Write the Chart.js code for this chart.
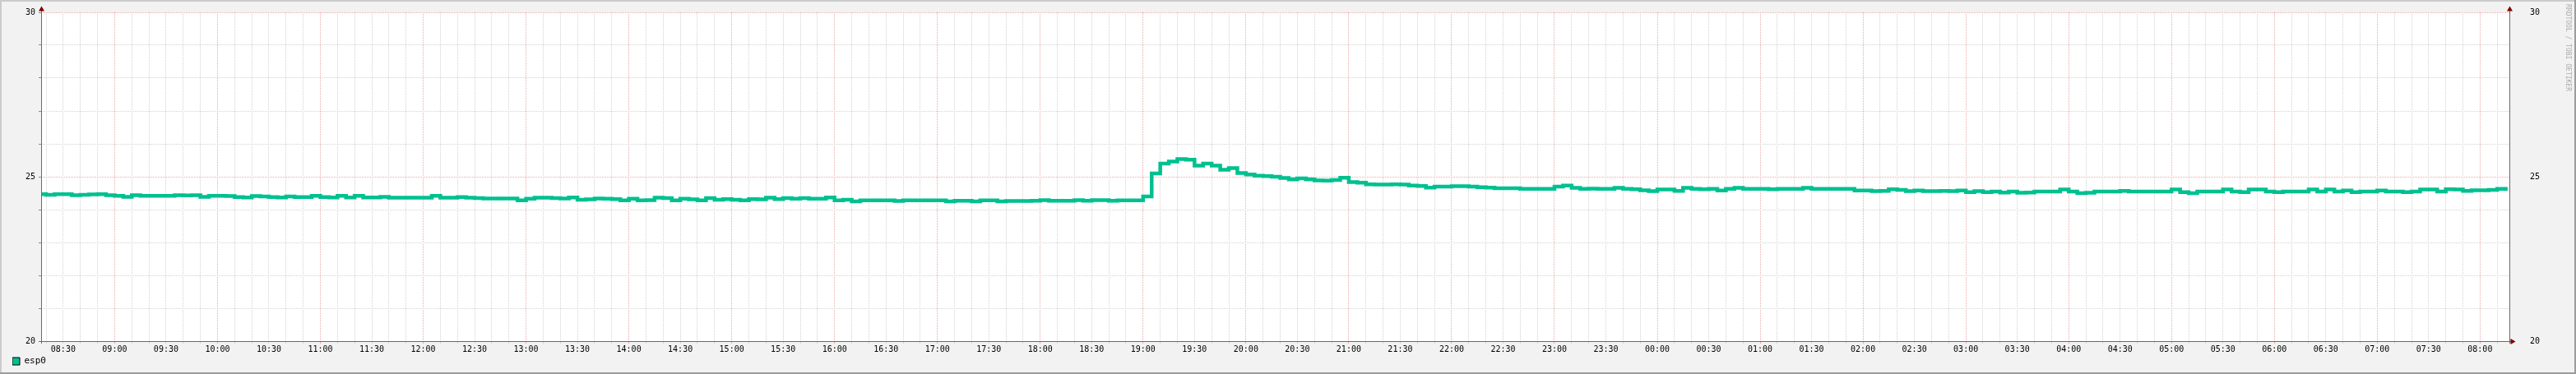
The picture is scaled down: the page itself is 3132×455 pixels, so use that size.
<!DOCTYPE html>
<html><head><meta charset="utf-8">
<script src="https://cdn.jsdelivr.net/npm/chart.js@4.4.1/dist/chart.umd.min.js"></script>
<style>html,body{margin:0;padding:0;background:#f2f2f2;}canvas{display:block}</style>
</head><body>
<canvas id="c" width="3132" height="455" style="width:3132px;height:455px"></canvas>
<script>
// ---- data (5-minute samples, first sample at 08:15) ----
const seriesName = 'esp0';
const startMinute = 495;   // 08:15
const stepMinutes = 5;
const xMin = 497.1;        // 08:17 (left edge of plot)
const xMax = 1937.1;       // 08:17 next day
const yTickLabels = [20, 25, 30];

// 08:15 - 12:55
const tempMorning = [
  24.47,24.45,24.47,24.47,24.44,24.45,24.46,24.47,24.44,
  24.42,24.39,24.44,24.42,24.42,24.42,24.42,24.44,24.43,24.44,24.39,24.42,
  24.42,24.41,24.38,24.37,24.41,24.40,24.38,24.37,24.40,24.38,24.38,24.42,
  24.38,24.37,24.42,24.37,24.42,24.37,24.37,24.39,24.36,24.36,24.36,24.36,
  24.36,24.42,24.36,24.36,24.38,24.36,24.35,24.34,24.34,24.34,24.34,24.28
];
// 13:00 - 18:55
const tempAfternoon = [
  24.33,24.36,24.36,24.35,24.34,24.37,24.30,24.31,24.34,24.33,24.32,24.28,
  24.33,24.28,24.29,24.36,24.35,24.28,24.33,24.31,24.28,24.35,24.30,24.32,
  24.30,24.28,24.32,24.31,24.36,24.32,24.35,24.33,24.35,24.33,24.33,24.37,
  24.28,24.30,24.25,24.28,24.28,24.28,24.28,24.26,24.28,24.28,24.28,24.28,
  24.28,24.25,24.27,24.27,24.25,24.28,24.28,24.25,24.26,24.26,24.26,24.27,
  24.29,24.27,24.27,24.27,24.29,24.27,24.29,24.29,24.27,24.28,24.28,24.28
];
// 19:00 - 23:55
const tempEvening = [
  24.40,25.10,25.40,25.46,25.54,25.52,25.34,25.40,25.34,25.21,25.26,25.11,
  25.07,25.03,25.02,25.00,24.96,24.92,24.95,24.92,24.89,24.88,24.90,24.97,
  24.84,24.82,24.77,24.76,24.76,24.77,24.76,24.73,24.72,24.67,24.70,24.70,
  24.71,24.71,24.70,24.68,24.67,24.65,24.65,24.65,24.63,24.63,24.63,24.63,
  24.70,24.73,24.66,24.63,24.64,24.63,24.63,24.66,24.63,24.62,24.59,24.56
];
// 00:00 - 08:15
const tempNight = [
  24.61,24.61,24.57,24.66,24.63,24.62,24.63,24.58,24.63,24.66,24.63,24.63,
  24.63,24.62,24.63,24.63,24.63,24.66,24.63,24.63,24.63,24.63,24.63,24.58,
  24.58,24.56,24.57,24.62,24.60,24.56,24.58,24.56,24.56,24.57,24.56,24.58,
  24.53,24.56,24.53,24.55,24.52,24.55,24.51,24.52,24.55,24.55,24.55,24.61,
  24.55,24.50,24.51,24.55,24.55,24.55,24.57,24.55,24.55,24.55,24.55,24.55,
  24.61,24.53,24.50,24.55,24.55,24.55,24.61,24.55,24.53,24.61,24.61,24.55,
  24.53,24.55,24.55,24.55,24.61,24.55,24.61,24.55,24.58,24.53,24.55,24.55,
  24.58,24.55,24.55,24.53,24.55,24.61,24.61,24.55,24.62,24.61,24.57,24.59,
  24.59,24.60,24.63,24.57
];

// ---- build ----
const temps = [].concat(tempMorning, tempAfternoon, tempEvening, tempNight);
const points = temps.map((v, i) => ({ x: startMinute + i * stepMinutes, y: v }));

const LINE = '#00C090';
const MINOR = '#D2D2D2';
const MAJOR = '#EBA9A9';
const AXIS = '#6A6A6A';
const ARROW = '#7F0000';
const MONO = '"DejaVu Sans Mono", "Liberation Mono", monospace';

function fmtTime(v) {
  const h = Math.floor(v / 60) % 24, m = Math.round(v % 60);
  return String(h).padStart(2, '0') + ':' + String(m).padStart(2, '0');
}

const rrdFrame = {
  id: 'rrdFrame',
  beforeDraw(chart) {
    const { ctx, width, height, chartArea: a } = chart;
    ctx.save();
    ctx.fillStyle = '#F2F2F2'; ctx.fillRect(0, 0, width, height);
    ctx.fillStyle = '#CBCBCB'; ctx.fillRect(0, 0, width, 2); ctx.fillRect(0, 0, 2, height);
    ctx.fillStyle = '#9C9C9C'; ctx.fillRect(0, height - 2, width, 2); ctx.fillRect(width - 2, 0, 2, height);
    ctx.fillStyle = '#FFFFFF'; ctx.fillRect(a.left, a.top, a.right - a.left, a.bottom - a.top);
    ctx.restore();
  },
  afterDraw(chart) {
    const { ctx, chartArea: a } = chart;
    ctx.save();
    ctx.strokeStyle = AXIS; ctx.lineWidth = 1;
    ctx.beginPath();
    ctx.moveTo(a.left + 0.5, a.bottom + 3); ctx.lineTo(a.left + 0.5, a.top - 4);
    ctx.moveTo(a.right + 0.5, a.bottom + 3); ctx.lineTo(a.right + 0.5, a.top - 4);
    ctx.moveTo(a.left - 3, a.bottom + 0.5); ctx.lineTo(a.right + 4, a.bottom + 0.5);
    ctx.stroke();
    ctx.fillStyle = ARROW;
    [a.left + 0.5, a.right + 0.5].forEach(x => {
      ctx.beginPath(); ctx.moveTo(x - 3.5, a.top - 1.5); ctx.lineTo(x + 3.5, a.top - 1.5); ctx.lineTo(x, a.top - 7.5); ctx.closePath(); ctx.fill();
    });
    ctx.beginPath(); ctx.moveTo(a.right + 1.5, a.bottom - 3); ctx.lineTo(a.right + 1.5, a.bottom + 4); ctx.lineTo(a.right + 7.5, a.bottom + 0.5); ctx.closePath(); ctx.fill();
    // watermark
    ctx.translate(3122, 5);
    ctx.rotate(Math.PI / 2);
    ctx.fillStyle = '#ABABAB';
    ctx.font = '8px ' + MONO;
    ctx.textBaseline = 'middle';
    ctx.textAlign = 'left';
    ctx.fillText('RRDTOOL / TOBI OETIKER', 0, 0);
    ctx.restore();
  }
};

new Chart(document.getElementById('c'), {
  type: 'line',
  data: {
    datasets: [{
      label: seriesName,
      data: points,
      borderColor: LINE,
      backgroundColor: LINE,
      borderWidth: 4.5,
      pointRadius: 0,
      stepped: true,
      fill: false,
      yAxisID: 'y'
    }]
  },
  options: {
    responsive: false,
    animation: false,
    events: [],
    layout: { padding: { top: 15, left: 15, right: 0, bottom: 0 } },
    plugins: {
      tooltip: { enabled: false },
      legend: {
        display: true,
        position: 'bottom',
        align: 'start',
        labels: {
          boxWidth: 9, boxHeight: 9, padding: 0,
          color: '#000',
          font: { family: MONO, size: 11 },
          generateLabels(chart) {
            return chart.data.datasets.map((d, i) => ({
              text: d.label, fillStyle: d.borderColor, strokeStyle: '#000', lineWidth: 1,
              hidden: false, datasetIndex: i, fontColor: '#000'
            }));
          }
        }
      }
    },
    scales: {
      x: {
        type: 'linear',
        min: xMin, max: xMax,
        afterBuildTicks(scale) {
          const t = [];
          for (let v = Math.ceil(scale.min / 10) * 10; v <= scale.max; v += 10) t.push({ value: v });
          scale.ticks = t;
        },
        afterFit(scale) { scale.height = 19; },
        ticks: {
          autoSkip: false, maxRotation: 0, minRotation: 0, padding: 1,
          color: '#000', font: { family: MONO, size: 10 },
          callback: (v) => (Math.round(v) % 30 === 0 ? fmtTime(v) : '')
        },
        grid: {
          drawTicks: true, tickLength: 3,
          color: (c) => (c.tick && Math.round(c.tick.value) % 60 === 0 ? MAJOR : MINOR),
          tickColor: (c) => (c.tick && Math.round(c.tick.value) % 60 === 0 ? MAJOR : MINOR),
          lineWidth: 1
        },
        border: { display: false, dash: [1, 1] }
      },
      y: {
        position: 'left',
        min: 20, max: 30,
        afterBuildTicks(scale) {
          const t = [];
          for (let v = 20; v <= 30; v += 1) t.push({ value: v });
          scale.ticks = t;
        },
        afterFit(scale) { scale.width = 35; },
        ticks: {
          padding: 4, color: '#000', font: { family: MONO, size: 10 },
          callback: (v) => (yTickLabels.includes(v) ? String(v) : '')
        },
        grid: {
          drawTicks: true, tickLength: 3,
          color: (c) => (c.tick && c.tick.value % 5 === 0 ? MAJOR : MINOR),
          tickColor: '#8A8A8A',
          lineWidth: 1
        },
        border: { display: false, dash: [1, 1] }
      },
      y2: {
        position: 'right',
        min: 20, max: 30,
        afterBuildTicks(scale) {
          scale.ticks = yTickLabels.map(v => ({ value: v }));
        },
        afterFit(scale) { scale.width = 81; },
        ticks: {
          padding: 3, color: '#000', font: { family: MONO, size: 10 },
          callback: (v) => String(v)
        },
        grid: { display: false, drawTicks: true, tickLength: 22 },
        border: { display: false }
      }
    }
  },
  plugins: [rrdFrame]
});
</script>
</body></html>
